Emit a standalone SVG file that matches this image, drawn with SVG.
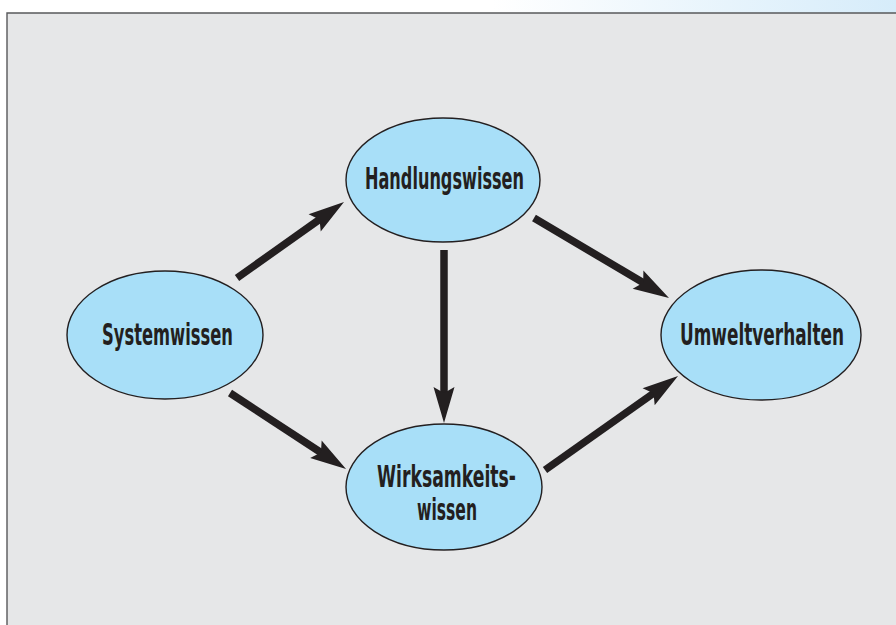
<svg xmlns="http://www.w3.org/2000/svg" width="896" height="625" viewBox="0 0 896 625">
  <defs>
    <linearGradient id="topband" x1="0" y1="0" x2="896" y2="0" gradientUnits="userSpaceOnUse">
      <stop offset="0" stop-color="#ffffff"/>
      <stop offset="0.55" stop-color="#ffffff"/>
      <stop offset="1" stop-color="#d6ecfa"/>
    </linearGradient>
    <marker id="head" markerUnits="userSpaceOnUse" orient="auto" refX="0" refY="0" markerWidth="40" markerHeight="30" viewBox="-20 -15 40 30" overflow="visible">
      <path d="M20,0 L-16,-10.5 L-10,0 L-16,10.5 Z" fill="#231f20"/>
    </marker>
    <style>
      .node ellipse { fill: #a8dff8; stroke: #231f20; stroke-width: 1.4; }
      .node text { font-family: "DejaVu Sans Condensed", "DejaVu Sans", sans-serif; font-weight: bold; font-size: 30px; fill: #231f20; text-anchor: middle; }
      .conn line { stroke: #231f20; stroke-width: 7.5; stroke-linecap: butt; marker-end: url(#head); }
    </style>
  </defs>
  <rect x="0" y="0" width="896" height="625" fill="#ffffff"/>
  <rect x="0" y="0" width="896" height="13" fill="url(#topband)"/>
  <rect x="7" y="13" width="889" height="612" fill="#e6e7e8"/>
  <path d="M7,625 V13 H896" fill="none" stroke="#58595b" stroke-width="1.4"/>

  <g id="connectors" class="conn">
    <line x1="237" y1="278" x2="327.7" y2="213.6"/>
    <line x1="230" y1="393" x2="329.3" y2="458"/>
    <line x1="444" y1="250" x2="444" y2="403"/>
    <line x1="534" y1="218" x2="651.8" y2="287.8"/>
    <line x1="545" y1="470" x2="661.7" y2="387.5"/>
  </g>

  <g id="handlungswissen" class="node">
    <ellipse cx="443" cy="180" rx="97" ry="62"/>
    <text x="444.5" y="189" textLength="159" lengthAdjust="spacingAndGlyphs">Handlungswissen</text>
  </g>
  <g id="systemwissen" class="node">
    <ellipse cx="165" cy="335" rx="98" ry="64"/>
    <text x="167.5" y="345" textLength="131" lengthAdjust="spacingAndGlyphs">Systemwissen</text>
  </g>
  <g id="umweltverhalten" class="node">
    <ellipse cx="761" cy="335" rx="100" ry="65"/>
    <text x="762" y="345" textLength="164" lengthAdjust="spacingAndGlyphs">Umweltverhalten</text>
  </g>
  <g id="wirksamkeitswissen" class="node">
    <ellipse cx="444" cy="487" rx="98" ry="63"/>
    <text x="446.5" y="487" textLength="139" lengthAdjust="spacingAndGlyphs">Wirksamkeits-</text>
    <text x="447" y="520" textLength="60" lengthAdjust="spacingAndGlyphs">wissen</text>
  </g>
</svg>
